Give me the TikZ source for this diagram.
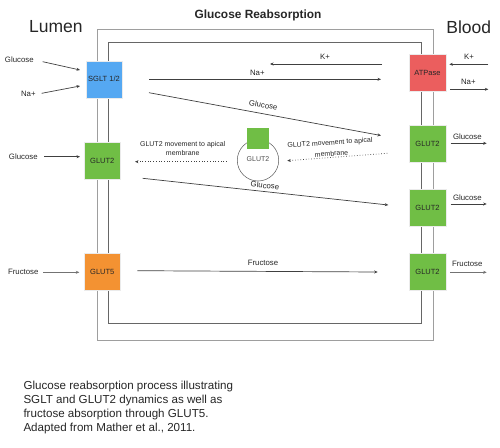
\documentclass[tikz,border=0pt]{standalone}
\usepackage{fontspec}
\setmainfont{Liberation Sans}
\usetikzlibrary{arrows.meta}
\definecolor{sgltc}{HTML}{55A8F2}
\definecolor{glutc}{HTML}{70BE45}
\definecolor{orngc}{HTML}{F39232}
\definecolor{atpc}{HTML}{EB5E5E}
\definecolor{txtc}{HTML}{262626}
\begin{document}
\begin{tikzpicture}[x=1pt,y=-1pt,
  lbl/.style={font=\fontsize{7.8}{9}\selectfont, text=txtc, inner sep=0pt},
  mlbl/.style={font=\fontsize{7}{8}\selectfont, text=txtc, inner sep=0pt},
  box/.style={minimum width=36.5pt, minimum height=37pt, inner sep=0pt, font=\fontsize{7.5}{9}\selectfont, text=txtc, draw=black!8, line width=0.5pt},
  arr/.style={-{Stealth[length=3.5pt,width=3pt]}, line width=0.7pt, draw=black!75},
  darr/.style={arr, dotted},
  memo/.style={draw=black!38, line width=0.8pt},
  memi/.style={draw=black!60, line width=0.8pt},
]
\useasboundingbox (0,0) rectangle (500,447);

% membranes
\draw[memo] (97,29) rectangle (433,340);
\draw[memi] (108.3,42.7) rectangle (421.7,323.3);

% titles
\node[font=\bfseries\fontsize{11.9}{13}\selectfont, text=txtc, inner sep=0pt, anchor=base] (title) at (258,18.3) {Glucose Reabsorption};
\node[font=\fontsize{17.5}{19}\selectfont, text=txtc, inner sep=0pt] (lumen) at (55.8,26.8) {Lumen};
\node[font=\fontsize{17.5}{19}\selectfont, text=txtc, inner sep=0pt] (blood) at (468.7,26.8) {Blood};

% transporter boxes
\node[box, fill=sgltc] (sglt) at (104,79.3) {SGLT 1/2};
\node[box, fill=glutc] (g2l) at (102.3,161) {GLUT2};
\node[box, fill=orngc] (g5) at (102.3,272) {GLUT5};
\node[box, fill=atpc] (atp) at (427.5,73) {ATPase};
\node[box, fill=glutc] (g2a) at (427.5,143.7) {GLUT2};
\node[box, fill=glutc] (g2b) at (427.5,207.5) {GLUT2};
\node[box, fill=glutc] (g2c) at (427.5,271.8) {GLUT2};

% vesicle
\node[circle, draw=black!65, line width=0.5pt, minimum size=41.4pt, inner sep=0pt] (ves) at (258,160.3) {};
\node[fill=glutc, minimum width=22pt, minimum height=21pt, inner sep=0pt] (vsq) at (258,138.8) {};
\node[font=\fontsize{7}{8}\selectfont, text=black!70, inner sep=0pt] (vlab) at (258,158.7) {GLUT2};

% left inputs
\node[lbl] (tgl1) at (19.3,60) {Glucose};
\coordinate (a1s) at (42.7,61.7); \coordinate (a1e) at (80,70);
\draw[arr] (a1s) -- (a1e);
\node[lbl] (tna1) at (28.3,94.3) {Na+};
\coordinate (a2s) at (41.7,93.3); \coordinate (a2e) at (80,86);
\draw[arr] (a2s) -- (a2e);
\node[lbl] (tgl2) at (23.3,156.7) {Glucose};
\coordinate (a3s) at (44,156.7); \coordinate (a3e) at (80,156.7);
\draw[arr] (a3s) -- (a3e);
\node[lbl] (tfr1) at (23.3,272.3) {Fructose};
\coordinate (a4s) at (43.3,272.3); \coordinate (a4e) at (79.3,272.3);
\draw[arr, draw=black!55] (a4s) -- (a4e);

% cytoplasm arrows
\coordinate (k1s) at (382,64); \coordinate (k1e) at (270,64);
\draw[arr] (k1s) -- (k1e);
\node[lbl] (tk1) at (325,57) {K+};
\coordinate (n1s) at (149,79.3); \coordinate (n1e) at (381,79.3);
\draw[arr] (n1s) -- (n1e);
\node[lbl] (tn1) at (257.3,73.3) {Na+};
\coordinate (d1s) at (149,92.7); \coordinate (d1e) at (381,135.5);
\draw[arr] (d1s) -- (d1e);
\node[lbl, rotate=-10.3] (td1) at (263.3,105) {Glucose};
\coordinate (m1s) at (226.7,161.7); \coordinate (m1e) at (135,161.7);
\draw[darr] (m1s) -- (m1e);
\node[mlbl] (tm1a) at (182.7,145) {GLUT2 movement to apical};
\node[mlbl] (tm1b) at (182.7,153.3) {membrane};
\coordinate (m2s) at (387.3,153.3); \coordinate (m2e) at (287.3,160.7);
\draw[darr] (m2s) -- (m2e);
\node[mlbl, rotate=4] (tm2a) at (330,143.2) {GLUT2 movement to apical};
\node[mlbl, rotate=4] (tm2b) at (331.5,153.6) {membrane};
\coordinate (d2s) at (142.7,178.3); \coordinate (d2e) at (388.3,205);
\draw[arr] (d2s) -- (d2e);
\node[lbl, rotate=-6.2] (td2) at (265,185.5) {Glucose};
\coordinate (f1s) at (137.3,270.7); \coordinate (f1e) at (377.7,272);
\draw[arr] (f1s) -- (f1e);
\node[lbl] (tf1) at (263,263.3) {Fructose};

% right outputs
\coordinate (k2s) at (488.3,64.3); \coordinate (k2e) at (449.3,64.3);
\draw[arr] (k2s) -- (k2e);
\node[lbl] (tk2) at (469,56.7) {K+};
\coordinate (n2s) at (450,89.3); \coordinate (n2e) at (488.3,89.3);
\draw[arr] (n2s) -- (n2e);
\node[lbl] (tn2) at (468.3,82.3) {Na+};
\coordinate (o1s) at (450.7,143.3); \coordinate (o1e) at (486.7,143.3);
\draw[arr] (o1s) -- (o1e);
\node[lbl] (to1) at (467.3,136.7) {Glucose};
\coordinate (o2s) at (450.7,204); \coordinate (o2e) at (486.7,204);
\draw[arr] (o2s) -- (o2e);
\node[lbl] (to2) at (467.3,197.3) {Glucose};
\coordinate (o3s) at (450,272.3); \coordinate (o3e) at (486.7,272.3);
\draw[arr, draw=black!55] (o3s) -- (o3e);
\node[lbl] (to3) at (467.3,264.3) {Fructose};

% caption
\node[font=\fontsize{11.6}{14}\selectfont, text=txtc, inner sep=0pt, align=left, anchor=north west] (cap) at (23.3,380.6) {Glucose reabsorption process illustrating\\SGLT and GLUT2 dynamics as well as\\fructose absorption through GLUT5.\\Adapted from Mather et al., 2011.};
\end{tikzpicture}
\end{document}
